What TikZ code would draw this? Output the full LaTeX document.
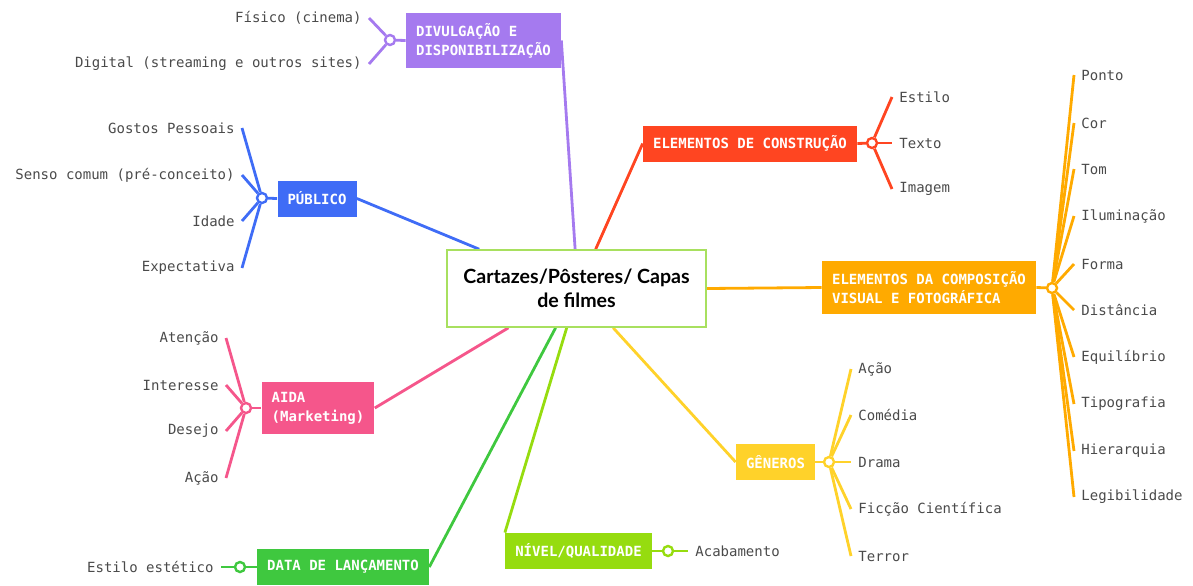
\documentclass[tikz,border=0pt]{standalone}
\usepackage{fontspec}
\setmonofont{DejaVu Sans Mono}
\newfontfamily\titlefont{Lato}
\usetikzlibrary{positioning, backgrounds}
\usepackage{xcolor}

\definecolor{divcol}{HTML}{A57AEF}
\definecolor{pubcol}{HTML}{3F6CF6}
\definecolor{eccol}{HTML}{FF4521}
\definecolor{ecvcol}{HTML}{FFAA00}
\definecolor{gencol}{HTML}{FFD22A}
\definecolor{nivcol}{HTML}{96DC0F}
\definecolor{datacol}{HTML}{3FC83F}
\definecolor{aidacol}{HTML}{F5568B}
\definecolor{ctrcol}{HTML}{A8E05F}
\definecolor{leafgray}{HTML}{4A4A4A}

\begin{document}
\begin{tikzpicture}[
    x=0.5pt, y=-0.5pt,
    topic/.style={rectangle, fill=#1, text=white, align=left, inner xsep=5pt, inner ysep=5pt, minimum height=18pt,
        font=\ttfamily\bfseries\fontsize{7}{9.5}\selectfont},
    hub/.style={circle, draw=#1, fill=white, line width=1.2pt, minimum size=5pt, inner sep=0pt},
    leafr/.style={anchor=west, inner xsep=3.5pt, text=leafgray, font=\ttfamily\fontsize{7}{8}\selectfont},
    leafl/.style={leafr, anchor=east},
    link/.style={line width=1.4pt, draw=#1}
]
\useasboundingbox (0,0) rectangle (1193,585);

% Central node
\node[rectangle, draw=ctrcol, line width=0.8pt, fill=white, minimum width=129.5pt, minimum height=38.5pt,
    align=center, font=\titlefont\bfseries\fontsize{9.8}{12}\selectfont] (ctr) at (576.5,288.5)
    {Cartazes/Pôsteres/ Capas\\de filmes};

% Topic nodes
\node[topic=divcol] (div) at (483.5,40.5) {DIVULGAÇÃO E\\DISPONIBILIZAÇÃO};
\node[topic=pubcol] (pub) at (317,198.5) {PÚBLICO};
\node[topic=eccol] (ec) at (750,143.5) {ELEMENTOS DE CONSTRUÇÃO};
\node[topic=ecvcol] (ecv) at (929,287.5) {ELEMENTOS DA COMPOSIÇÃO\\VISUAL E FOTOGRÁFICA};
\node[topic=gencol] (gen) at (775.5,462) {GÊNEROS};
\node[topic=nivcol] (niv) at (578.5,551) {NÍVEL/QUALIDADE};
\node[topic=datacol] (data) at (343,567) {DATA DE LANÇAMENTO};
\node[topic=aidacol] (aida) at (318,408) {AIDA\\(Marketing)};

% Hubs
\node[hub=divcol] (divhub) at (390,40) {};
\node[hub=pubcol] (pubhub) at (262,198) {};
\node[hub=eccol] (echub) at (872,143) {};
\node[hub=ecvcol] (ecvhub) at (1052,288) {};
\node[hub=gencol] (genhub) at (829,462) {};
\node[hub=nivcol] (nivhub) at (668,551) {};
\node[hub=datacol] (datahub) at (240,567) {};
\node[hub=aidacol] (aidahub) at (246,408) {};

% Leaves
\node[leafl] (fisico) at (369,18) {Físico (cinema)};
\node[leafl] (digital) at (369,64) {Digital (streaming e outros sites)};

\node[leafl] (gostos) at (242,128) {Gostos Pessoais};
\node[leafl] (senso) at (242,175) {Senso comum (pré-conceito)};
\node[leafl] (idade) at (242,221) {Idade};
\node[leafl] (expect) at (242,268) {Expectativa};

\node[leafr] (estilo) at (892,97) {Estilo};
\node[leafr] (texto) at (892,143) {Texto};
\node[leafr] (imagem) at (892,189) {Imagem};

\node[leafr] (ponto) at (1074,75) {Ponto};
\node[leafr] (cor) at (1074,123) {Cor};
\node[leafr] (tom) at (1074,169) {Tom};
\node[leafr] (ilum) at (1074,216) {Iluminação};
\node[leafr] (forma) at (1074,264) {Forma};
\node[leafr] (dist) at (1074,310) {Distância};
\node[leafr] (equil) at (1074,357) {Equilíbrio};
\node[leafr] (tipo) at (1074,404) {Tipografia};
\node[leafr] (hier) at (1074,451) {Hierarquia};
\node[leafr] (legib) at (1074,497) {Legibilidade};

\node[leafr] (acao) at (851,369) {Ação};
\node[leafr] (comedia) at (851,415) {Comédia};
\node[leafr] (drama) at (851,462) {Drama};
\node[leafr] (ficcao) at (851,509) {Ficção Científica};
\node[leafr] (terror) at (851,556) {Terror};

\node[leafr] (acab) at (688,551) {Acabamento};

\node[leafl] (estetico) at (221,567) {Estilo estético};

\node[leafl] (atencao) at (226,338) {Atenção};
\node[leafl] (interesse) at (226,385) {Interesse};
\node[leafl] (desejo) at (226,431) {Desejo};
\node[leafl] (acaoa) at (226,478) {Ação};

% Links from the centre
\begin{scope}[on background layer]
\draw[link=divcol] (ctr.92) -- (div.east);
\draw[link=pubcol] (ctr.158) -- (pub.east);
\draw[link=eccol] (ctr.64) -- (ec.west);
\draw[link=ecvcol] (ctr.east) -- (ecv.west);
\draw[link=gencol] (ctr.313) -- (gen.west);
\draw[link=nivcol] (ctr.256) -- (niv.north west);
\draw[link=datacol] (ctr.242) -- (data.east);
\draw[link=aidacol] (ctr.210) -- (aida.east);
\end{scope}

% Topic to hub
\draw[link=divcol] (div.west) -- (divhub);
\draw[link=pubcol] (pub.west) -- (pubhub);
\draw[link=eccol] (ec.east) -- (echub);
\draw[link=ecvcol] (ecv.east) -- (ecvhub);
\draw[link=gencol] (gen.east) -- (genhub);
\draw[link=nivcol] (niv.east) -- (nivhub);
\draw[link=datacol] (data.west) -- (datahub);
\draw[link=aidacol] (aida.west) -- (aidahub);

% Hub to leaves
\draw[link=divcol] (divhub) -- (fisico.east);
\draw[link=divcol] (divhub) -- (digital.east);

\draw[link=pubcol] (pubhub) -- (gostos.east);
\draw[link=pubcol] (pubhub) -- (senso.east);
\draw[link=pubcol] (pubhub) -- (idade.east);
\draw[link=pubcol] (pubhub) -- (expect.east);

\draw[link=eccol] (echub) -- (estilo.west);
\draw[link=eccol] (echub) -- (texto.west);
\draw[link=eccol] (echub) -- (imagem.west);

\draw[link=ecvcol] (ecvhub) -- (ponto.west);
\draw[link=ecvcol] (ecvhub) -- (cor.west);
\draw[link=ecvcol] (ecvhub) -- (tom.west);
\draw[link=ecvcol] (ecvhub) -- (ilum.west);
\draw[link=ecvcol] (ecvhub) -- (forma.west);
\draw[link=ecvcol] (ecvhub) -- (dist.west);
\draw[link=ecvcol] (ecvhub) -- (equil.west);
\draw[link=ecvcol] (ecvhub) -- (tipo.west);
\draw[link=ecvcol] (ecvhub) -- (hier.west);
\draw[link=ecvcol] (ecvhub) -- (legib.west);

\draw[link=gencol] (genhub) -- (acao.west);
\draw[link=gencol] (genhub) -- (comedia.west);
\draw[link=gencol] (genhub) -- (drama.west);
\draw[link=gencol] (genhub) -- (ficcao.west);
\draw[link=gencol] (genhub) -- (terror.west);

\draw[link=nivcol] (nivhub) -- (acab.west);

\draw[link=datacol] (datahub) -- (estetico.east);

\draw[link=aidacol] (aidahub) -- (atencao.east);
\draw[link=aidacol] (aidahub) -- (interesse.east);
\draw[link=aidacol] (aidahub) -- (desejo.east);
\draw[link=aidacol] (aidahub) -- (acaoa.east);

\end{tikzpicture}
\end{document}
